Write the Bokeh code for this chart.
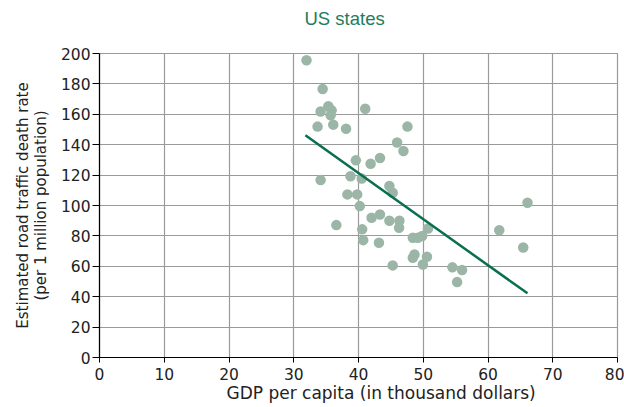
from bokeh.plotting import figure
from bokeh.embed import file_html
from bokeh.resources import INLINE
from bokeh.models import ColumnDataSource, FixedTicker, Range1d, Title, LinearAxis

# GDP per capita (thousand dollars) and road traffic death rate (per 1M)
gdp = [31.97, 34.46, 35.34, 34.15, 35.85, 35.7, 33.68, 36.1, 38.08, 41.04,
       47.56, 45.96, 46.94, 39.59, 41.87, 43.32,
       34.15, 38.76, 40.5, 44.77, 45.28, 38.29, 39.79, 40.2, 36.58, 42.02,
       43.32, 44.77, 46.32, 46.27, 40.57, 40.73, 43.16, 50.73, 48.39, 49.17,
       49.84, 48.65, 48.39, 50.57, 49.95, 45.28, 54.5, 56.0, 55.23,
       66.1, 61.74, 65.44]
death_rate = [195.6, 176.7, 165.3, 161.8, 162.6, 159.3, 151.9, 153.2, 150.5, 163.7,
              151.9, 141.5, 135.8, 129.7, 127.5, 131.2,
              116.7, 119.3, 117.8, 112.8, 108.4, 107.3, 107.3, 99.6, 87.1, 91.9,
              94.1, 90.0, 90.0, 85.4, 84.3, 77.2, 75.5, 84.9, 78.8, 78.8,
              79.9, 67.8, 65.6, 66.3, 61.2, 60.6, 59.3, 57.5, 49.6,
              101.8, 83.7, 72.4]

# Trend line end points
trend_x = [31.8, 66.1]
trend_y = [146.2, 42.2]

x_ticks = [0, 10, 20, 30, 40, 50, 60, 70, 80]
y_ticks = [0, 20, 40, 60, 80, 100, 120, 140, 160, 180, 200]

x_title = "GDP per capita (in thousand  dollars)"
y_title = "Estimated road traffic death rate\n(per 1 million population)"

FONT = "DejaVu Sans"
TFONT = "Liberation Sans"
TXT = "#222222"

p = figure(output_backend="svg", toolbar_location=None,
           frame_width=518, frame_height=304,
           min_border_left=99, min_border_right=7,
           min_border_top=53, min_border_bottom=49,
           x_range=Range1d(0, 80), y_range=Range1d(0, 200),
           title="US states")

p.title.text_font = TFONT
p.title.text_font_size = "18.5px"
p.title.text_font_style = "normal"
p.title.text_color = "#1d7d5e"
p.title.align = "left"
p.title.offset = 205
p.title.vertical_align = "top"
p.title.standoff = 10

# invisible spacer axis above the frame, pushing the title upward
spacer = LinearAxis(ticker=FixedTicker(ticks=[40]), axis_line_color=None,
                    major_tick_line_color=None, minor_tick_line_color=None,
                    major_tick_out=18, major_tick_in=0,
                    major_label_text_color=None,
                    major_label_text_font_size="1px")
p.add_layout(spacer, "above")

src = ColumnDataSource(dict(x=gdp, y=death_rate))
p.scatter("x", "y", source=src, size=10.5, fill_color="#9bb6a7",
          line_color="#9bb6a7", line_width=0)
p.line(trend_x, trend_y, line_color="#08704f", line_width=2.5)

xax = p.below[0]
yax = p.left[0]
xax.ticker = FixedTicker(ticks=x_ticks)
yax.ticker = FixedTicker(ticks=y_ticks)
yax.axis_label = y_title

for ax in (xax, yax):
    ax.axis_line_color = "black"
    ax.axis_line_width = 1.2
    ax.major_tick_line_color = "black"
    ax.major_tick_in = 0
    ax.minor_tick_line_color = None
    ax.major_label_text_font = FONT
    ax.major_label_text_font_size = "15.5px"
    ax.major_label_text_color = TXT
    ax.axis_label_text_font = FONT
    ax.axis_label_text_font_style = "normal"
    ax.axis_label_text_color = TXT

xax.major_tick_out = 5
yax.major_tick_out = 7
xax.major_label_standoff = 5
yax.major_label_standoff = 2
yax.axis_label_text_font_size = "15px"
yax.axis_label_text_line_height = 1.0
yax.axis_label_standoff = 8

# x axis title, shifted right like the reference
xt = Title(text=x_title, align="left", offset=127, text_font=FONT,
           text_font_size="17px", text_font_style="normal", text_color=TXT,
           standoff=0, vertical_align="top")
p.add_layout(xt, "below")

p.xgrid.grid_line_color = "#9a9a9a"
p.ygrid.grid_line_color = "#9a9a9a"
p.xgrid.grid_line_width = 1.2
p.ygrid.grid_line_width = 1.2
p.xgrid.ticker = FixedTicker(ticks=x_ticks)
p.ygrid.ticker = FixedTicker(ticks=y_ticks)
p.outline_line_color = "#9a9a9a"
p.outline_line_width = 1.2
p.background_fill_color = "white"
p.border_fill_color = "white"

open("out.html", "w").write(file_html(p, INLINE))
